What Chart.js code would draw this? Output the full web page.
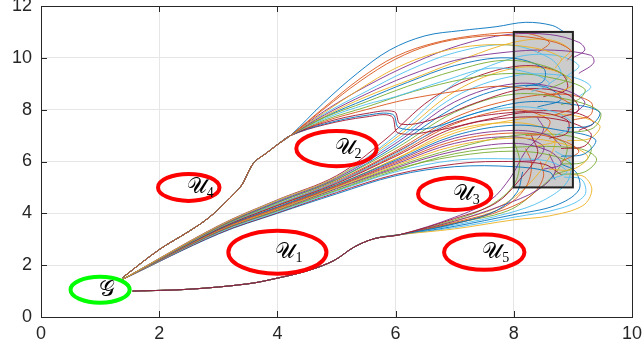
<!DOCTYPE html>
<html>
<head>
<meta charset="utf-8">
<script src="https://cdn.jsdelivr.net/npm/chart.js@4.4.1/dist/chart.umd.min.js"></script>
<style>
  html, body { margin: 0; background: #fff; }
  #wrap { width: 644px; height: 360px; }
</style>
</head>
<body>
<div id="wrap"><canvas id="c"></canvas></div>
<script>
// Axis ticks
const xTicks = [0, 2, 4, 6, 8, 10];
const yTicks = [0, 2, 4, 6, 8, 10, 12];

// Unsafe sets U1..U5 (circles in data units)
const regionSubs = ['1', '2', '3', '4', '5'];
const regionCx = [4.0, 5.0, 7.0, 2.5, 7.5];
const regionCy = [2.5, 6.5, 4.75, 5.0, 2.5];
const regionR = [0.83, 0.68, 0.62, 0.52, 0.68];

// Initial set G
const goalCx = 1.0;
const goalCy = 1.05;
const goalR = 0.5;

// Target box
const targetX = [8, 9];
const targetY = [5, 11];

// Upper bundle: shared trunk past U4, then one tail per run
const trunkA = [[1.38, 1.52], [2.0, 2.6], [2.5, 3.3], [2.85, 3.85], [3.2, 4.6], [3.4, 5.1],
  [3.52, 5.65], [3.62, 6.0], [3.8, 6.3], [4.0, 6.65], [4.22, 7.0]];
const tailsA = [
  [[4.78, 8.26], [5.35, 9.4], [5.9, 10.3], [6.5, 10.85], [7.1, 11.05], [7.7, 11.2], [8.2, 11.37], [8.65, 11.25], [8.85, 11.0]],
  [[4.8, 8.05], [5.4, 9.1], [6.0, 9.95], [6.6, 10.5], [7.3, 10.8], [8.0, 10.85], [8.7, 10.6], [9.0, 10.2], [8.9, 9.9]],
  [[4.8, 7.9], [5.4, 8.8], [6.0, 9.6], [6.7, 10.2], [7.5, 10.5], [8.3, 10.4], [8.8, 10.0], [8.7, 9.6]],
  [[4.8, 7.8], [5.5, 8.6], [6.2, 9.3], [7.0, 9.9], [7.8, 10.2], [8.6, 10.3], [9.3, 10.1], [9.35, 9.8], [9.1, 9.4]],
  [[4.8, 7.7], [5.5, 8.3], [6.2, 8.9], [7.0, 9.5], [7.8, 9.9], [8.5, 9.7], [8.9, 9.2], [8.6, 8.8]],
  [[4.8, 7.65], [5.5, 8.2], [6.0, 8.5], [6.8, 9.1], [7.6, 9.6], [8.3, 9.4], [8.6, 9.0], [8.3, 8.7]],
  [[4.8, 7.5], [5.5, 7.85], [5.98, 7.92], [6.08, 7.45], [6.6, 7.6], [7.4, 8.3], [8.2, 8.8], [8.9, 8.6], [9.1, 8.0], [8.8, 7.7]],
  [[4.8, 7.45], [5.5, 7.78], [5.95, 7.82], [6.06, 7.3], [6.6, 7.3], [7.4, 7.9], [8.2, 8.3], [9.0, 8.2], [9.45, 7.9], [9.3, 7.4], [8.9, 7.3]],
  [[4.8, 7.55], [5.5, 8.0], [6.2, 8.4], [7.0, 8.7], [7.8, 8.9], [8.6, 8.6], [9.0, 8.1], [8.7, 7.8]],
  [[4.8, 7.75], [5.5, 8.5], [6.3, 9.2], [7.2, 10.0], [8.0, 10.6], [8.6, 10.7], [8.95, 10.3], [8.8, 9.9]],
  [[4.8, 7.95], [5.5, 8.9], [6.3, 9.8], [7.1, 10.5], [7.9, 10.9], [8.6, 10.9], [9.1, 10.6], [9.2, 10.3], [9.0, 10.0]],
  [[4.8, 7.6], [5.5, 8.1], [6.3, 8.7], [7.2, 9.2], [8.0, 9.4], [8.7, 9.2], [9.2, 8.8], [9.1, 8.4], [8.8, 8.2]],
  [[4.8, 7.85], [5.5, 8.7], [6.2, 9.5], [7.0, 10.2], [7.9, 10.5], [8.6, 10.0], [8.8, 9.4], [8.6, 9.0]],
  [[4.8, 7.42], [5.5, 7.72], [5.93, 7.75], [6.04, 7.1], [6.7, 7.2], [7.5, 7.6], [8.3, 7.9], [8.9, 7.6], [8.9, 7.1], [8.6, 6.9]],
  [[4.8, 7.72], [5.5, 8.4], [6.2, 9.05], [7.0, 9.7], [7.9, 10.0], [8.5, 9.6], [8.5, 9.1], [8.2, 8.9]],
  [[4.8, 8.1], [5.4, 9.2], [6.0, 10.05], [6.7, 10.6], [7.5, 10.9], [8.2, 10.95], [8.6, 10.6], [8.4, 10.2]]
];

// Middle bundle between U1 and U2: each run listed whole
const runsB = [
  [[1.38, 1.45], [3, 3.5], [4, 4.5], [5, 5.4], [6, 6.9], [7, 8.7], [8, 9.6], [8.7, 9.5], [9.0, 9.0], [8.7, 8.6]],
  [[1.38, 1.45], [3, 3.48], [4, 4.45], [5, 5.35], [6, 6.7], [7, 8.3], [8, 9.0], [8.8, 8.8], [9.2, 8.3], [9.0, 7.8]],
  [[1.38, 1.45], [3, 3.45], [4, 4.4], [5, 5.3], [6, 6.5], [7, 7.9], [8, 8.6], [8.9, 8.4], [9.46, 7.9], [9.35, 7.3], [8.9, 7.1]],
  [[1.38, 1.45], [3, 3.43], [4, 4.35], [5, 5.2], [6, 6.3], [7, 7.6], [8, 8.1], [8.7, 7.9], [9.0, 7.4], [8.7, 7.0]],
  [[1.38, 1.45], [3, 3.4], [4, 4.3], [5, 5.15], [6, 6.2], [7, 7.3], [8, 7.7], [8.8, 7.6], [9.3, 7.1], [9.2, 6.6], [8.8, 6.5]],
  [[1.38, 1.45], [3, 3.38], [4, 4.25], [5, 5.1], [6, 6.05], [7, 7.0], [8, 7.4], [8.8, 7.2], [9.38, 6.85], [9.2, 6.3], [8.8, 6.2]],
  [[1.38, 1.45], [3, 3.35], [4, 4.2], [5, 5.05], [6, 5.95], [7, 6.8], [8, 7.1], [8.7, 6.9], [9.1, 6.4], [8.8, 6.0]],
  [[1.38, 1.45], [3, 3.33], [4, 4.15], [5, 5.0], [6, 5.85], [7, 6.6], [8, 6.9], [8.8, 6.7], [9.25, 6.2], [9.0, 5.7], [8.6, 5.7]],
  [[1.38, 1.45], [3, 3.3], [4, 4.12], [5, 4.95], [6, 5.75], [7, 6.4], [8, 6.7], [8.6, 6.4], [8.8, 5.9], [8.5, 5.7]],
  [[1.38, 1.45], [3, 3.28], [4, 4.1], [5, 4.9], [6, 5.7], [7, 6.2], [8, 6.4], [8.7, 6.2], [9.0, 5.8], [8.7, 5.5]],
  [[1.38, 1.45], [3, 3.25], [4, 4.05], [5, 4.85], [6, 5.6], [7, 6.05], [8, 6.1], [8.6, 6.0], [8.9, 5.6], [8.6, 5.3]],
  [[1.38, 1.45], [3, 3.22], [4, 4.02], [5, 4.8], [6, 5.5], [7, 5.9], [7.7, 6.0], [8.5, 5.9], [8.8, 5.5]],
  [[1.38, 1.45], [3, 3.2], [4, 4.0], [5, 4.75], [6, 5.45], [7, 5.8], [8, 5.8], [8.6, 5.6], [8.7, 5.3]],
  [[1.38, 1.45], [3, 3.45], [4, 4.35], [5, 5.25], [6, 6.4], [7, 7.7], [8, 8.4], [8.8, 8.6], [9.3, 8.3], [9.3, 7.8], [9.0, 7.6]],
  [[1.38, 1.45], [3, 3.4], [4, 4.3], [5, 5.1], [6, 6.1], [7, 7.1], [8, 7.6], [8.9, 7.8], [9.45, 7.4], [9.3, 6.9], [8.9, 6.8]],
  [[1.38, 1.45], [3, 3.36], [4, 4.22], [5, 5.05], [6, 6.0], [7, 6.9], [8, 7.2], [8.6, 7.0], [8.8, 6.6]],
  [[1.38, 1.45], [3, 3.3], [4, 4.15], [5, 4.97], [6, 5.8], [7, 6.5], [8, 7.0], [8.9, 7.0], [9.3, 6.6], [9.2, 6.0], [8.8, 5.9]],
  [[1.38, 1.45], [3, 3.5], [4, 4.5], [5, 5.4], [6, 7.0], [7, 9.0], [8, 10.0], [8.7, 10.1], [9.1, 9.7], [8.9, 9.3]],
  [[1.38, 1.45], [3, 3.52], [4, 4.52], [5, 5.45], [5.8, 6.8], [6.6, 8.4], [7.4, 9.3], [8.2, 9.7], [8.8, 9.4], [8.9, 8.8], [8.5, 8.5]],
  [[1.38, 1.45], [3, 3.46], [4, 4.42], [5, 5.3], [6, 6.6], [7, 8.1], [7.8, 8.8], [8.5, 8.9], [8.8, 8.4], [8.4, 8.1]],
  [[1.38, 1.45], [3, 3.42], [4, 4.32], [5, 5.18], [6, 6.25], [7, 7.45], [8, 8.0], [8.6, 7.6], [8.5, 7.1], [8.2, 7.0]],
  [[1.38, 1.45], [3, 3.37], [4, 4.24], [5, 5.08], [6, 6.1], [7, 7.2], [7.9, 7.5], [8.5, 7.3], [8.7, 6.8], [8.4, 6.6]],
  [[1.38, 1.45], [3, 3.32], [4, 4.17], [5, 5.02], [6, 5.9], [7, 6.7], [8, 6.95], [8.5, 6.6], [8.4, 6.1], [8.1, 6.0]],
  [[1.38, 1.45], [3, 3.27], [4, 4.08], [5, 4.88], [6, 5.65], [7, 6.3], [8, 6.55], [9.1, 6.5], [9.4, 6.1], [9.2, 5.6], [8.8, 5.5]],
  [[1.38, 1.45], [3, 3.49], [4, 4.48], [5, 5.38], [6, 6.8], [7, 8.5], [8, 9.3], [8.9, 9.3], [9.3, 8.9], [9.1, 8.5]],
  [[1.38, 1.45], [3, 3.41], [4, 4.33], [5, 5.2], [6, 6.35], [7, 7.5], [8, 7.9], [9.0, 7.9], [9.35, 7.5], [9.1, 7.2]]
];

// Lower bundle under U1 and U5
const trunkC = [[1.55, 1.0], [2.5, 1.07], [3.5, 1.28], [4.0, 1.5], [4.5, 1.78], [4.95, 2.17],
  [5.3, 2.7], [5.65, 3.03], [6.08, 3.18]];
const tailsC = [
  [[7.0, 3.6], [7.7, 4.1], [8.05, 4.8], [8.15, 5.6]],
  [[7.0, 3.65], [7.8, 4.2], [8.2, 5.0], [8.3, 5.9], [8.2, 6.5]],
  [[7.0, 3.4], [8.0, 3.75], [8.6, 3.9], [9.17, 4.3], [9.32, 4.9], [9.2, 5.4], [9.0, 5.5]],
  [[7.0, 3.7], [7.8, 4.3], [8.4, 4.9], [8.7, 5.6], [8.6, 6.3]],
  [[7.0, 3.75], [7.6, 4.3], [8.0, 5.1], [8.1, 6.0], [8.0, 6.8]],
  [[7.0, 3.55], [7.9, 4.0], [8.5, 4.5], [8.9, 5.2], [8.95, 6.0], [8.7, 6.4]],
  [[7.0, 3.8], [7.7, 4.4], [8.1, 5.3], [8.4, 6.3], [8.3, 7.0]],
  [[7.0, 3.5], [8.0, 3.95], [8.7, 4.3], [9.1, 4.9], [9.05, 5.6], [8.8, 5.9]],
  [[7.0, 3.6], [7.85, 4.15], [8.3, 4.7], [8.5, 5.4], [8.45, 6.0]],
  [[7.0, 3.7], [7.75, 4.25], [8.15, 4.9], [8.5, 5.8], [8.7, 6.8], [8.5, 7.4]],
  [[7.0, 3.85], [7.6, 4.5], [7.95, 5.4], [8.2, 6.4], [8.5, 7.2], [8.4, 7.7]],
  [[7.0, 3.62], [7.9, 4.1], [8.35, 4.8], [8.75, 5.7], [8.9, 6.6], [8.6, 7.0]],
  [[7.0, 3.45], [8.0, 3.85], [8.8, 4.2], [9.2, 4.7], [9.15, 5.3], [8.85, 5.4]]
];

// MATLAB default line colour order
const lineColors = ['#0072BD', '#D95319', '#EDB120', '#7E2F8E', '#77AC30', '#4DBEEE', '#A2142F'];

const runs = [
  ...tailsA.map(t => trunkA.concat(t)),
  ...runsB,
  ...tailsC.map(t => trunkC.concat(t))
];

// the run drawn last over each shared trunk (orange on top, maroon below)
const lastDrawn = [1, tailsA.length + runsB.length + 6];

const datasets = runs.map((pts, i) => ({
  data: pts.map(([x, y]) => ({ x, y })),
  showLine: true,
  borderColor: lineColors[i % lineColors.length],
  borderWidth: 0.9,
  pointRadius: 0,
  tension: 0.35,
  fill: false,
  order: lastDrawn.includes(i) ? -1 : 0
}));

const TEXT = '#262626';
const tickFont = { family: '"Liberation Sans", Arial, sans-serif', size: 18 };

// Gray target box underneath the runs
const boxFill = {
  id: 'boxFill',
  beforeDatasetsDraw(chart) {
    const { ctx, scales: { x, y } } = chart;
    const x0 = x.getPixelForValue(targetX[0]), x1 = x.getPixelForValue(targetX[1]);
    const y0 = y.getPixelForValue(targetY[1]), y1 = y.getPixelForValue(targetY[0]);
    ctx.save();
    ctx.fillStyle = '#cccccc';
    ctx.fillRect(x0, y0, x1 - x0, y1 - y0);
    ctx.restore();
  }
};

function drawLabel(ctx, px, py, main, sub) {
  ctx.font = '22px "DejaVu Serif", "Liberation Serif", serif';
  ctx.textBaseline = 'middle';
  ctx.textAlign = 'left';
  ctx.fillStyle = '#000';
  ctx.fillText(main, px, py);
  if (sub) {
    const w = ctx.measureText(main).width;
    ctx.font = '14px "Liberation Serif", serif';
    ctx.fillText(sub, px + w, py + 6);
  }
}

// Box outline, circles, labels, frame and inward ticks on top
const overlay = {
  id: 'overlay',
  afterDatasetsDraw(chart) {
    const { ctx, chartArea: a, scales: { x, y } } = chart;
    ctx.save();

    const x0 = x.getPixelForValue(targetX[0]), x1 = x.getPixelForValue(targetX[1]);
    const y0 = y.getPixelForValue(targetY[1]), y1 = y.getPixelForValue(targetY[0]);
    ctx.strokeStyle = '#222';
    ctx.lineWidth = 2;
    ctx.strokeRect(x0, y0, x1 - x0, y1 - y0);

    const ppx = x.getPixelForValue(1) - x.getPixelForValue(0);
    const ppy = y.getPixelForValue(0) - y.getPixelForValue(1);

    ctx.lineWidth = 4;
    ctx.strokeStyle = '#ff0000';
    regionCx.forEach((cx, i) => {
      ctx.beginPath();
      ctx.ellipse(x.getPixelForValue(cx), y.getPixelForValue(regionCy[i]),
        regionR[i] * ppx, regionR[i] * ppy, 0, 0, Math.PI * 2);
      ctx.stroke();
    });
    ctx.strokeStyle = '#00ff00';
    ctx.beginPath();
    ctx.ellipse(x.getPixelForValue(goalCx), y.getPixelForValue(goalCy),
      goalR * ppx, goalR * ppy, 0, 0, Math.PI * 2);
    ctx.stroke();

    regionCx.forEach((cx, i) => {
      drawLabel(ctx, x.getPixelForValue(cx) - 2, y.getPixelForValue(regionCy[i]), '\u{1D4B0}', regionSubs[i]);
    });
    drawLabel(ctx, x.getPixelForValue(goalCx) - 1, y.getPixelForValue(goalCy), '\u{1D4A2}', '');

    // frame
    ctx.strokeStyle = TEXT;
    ctx.lineWidth = 1;
    ctx.strokeRect(Math.round(a.left) + 0.5, Math.round(a.top) + 0.5,
      Math.round(a.right - a.left), Math.round(a.bottom - a.top));

    // inward ticks on all four sides
    ctx.beginPath();
    xTicks.forEach(v => {
      const px = Math.round(x.getPixelForValue(v)) + 0.5;
      ctx.moveTo(px, a.bottom); ctx.lineTo(px, a.bottom - 6);
      ctx.moveTo(px, a.top); ctx.lineTo(px, a.top + 6);
    });
    yTicks.forEach(v => {
      const py = Math.round(y.getPixelForValue(v)) + 0.5;
      ctx.moveTo(a.left, py); ctx.lineTo(a.left + 6, py);
      ctx.moveTo(a.right, py); ctx.lineTo(a.right - 6, py);
    });
    ctx.stroke();
    ctx.restore();
  }
};

new Chart(document.getElementById('c'), {
  type: 'scatter',
  data: { datasets },
  options: {
    responsive: true,
    maintainAspectRatio: false,
    animation: false,
    layout: { padding: { top: 6, right: 12, left: 0, bottom: 0 } },
    plugins: { legend: { display: false }, tooltip: { enabled: false } },
    scales: {
      x: {
        type: 'linear', min: 0, max: 10,
        afterBuildTicks: s => { s.ticks = xTicks.map(v => ({ value: v })); },
        afterFit: s => { s.height = 43; s.paddingLeft = 0; s.paddingRight = 0; },
        grid: { color: '#e6e6e6', drawTicks: false },
        border: { display: false },
        ticks: { color: TEXT, font: tickFont, padding: 6, maxRotation: 0 }
      },
      y: {
        type: 'linear', min: 0, max: 12,
        afterBuildTicks: s => { s.ticks = yTicks.map(v => ({ value: v })); },
        afterFit: s => { s.width = 41; s.paddingTop = 0; s.paddingBottom = 0; },
        grid: { color: '#e6e6e6', drawTicks: false },
        border: { display: false },
        ticks: { color: TEXT, font: tickFont, padding: 9 }
      }
    }
  },
  plugins: [boxFill, overlay]
});
</script>
</body>
</html>
